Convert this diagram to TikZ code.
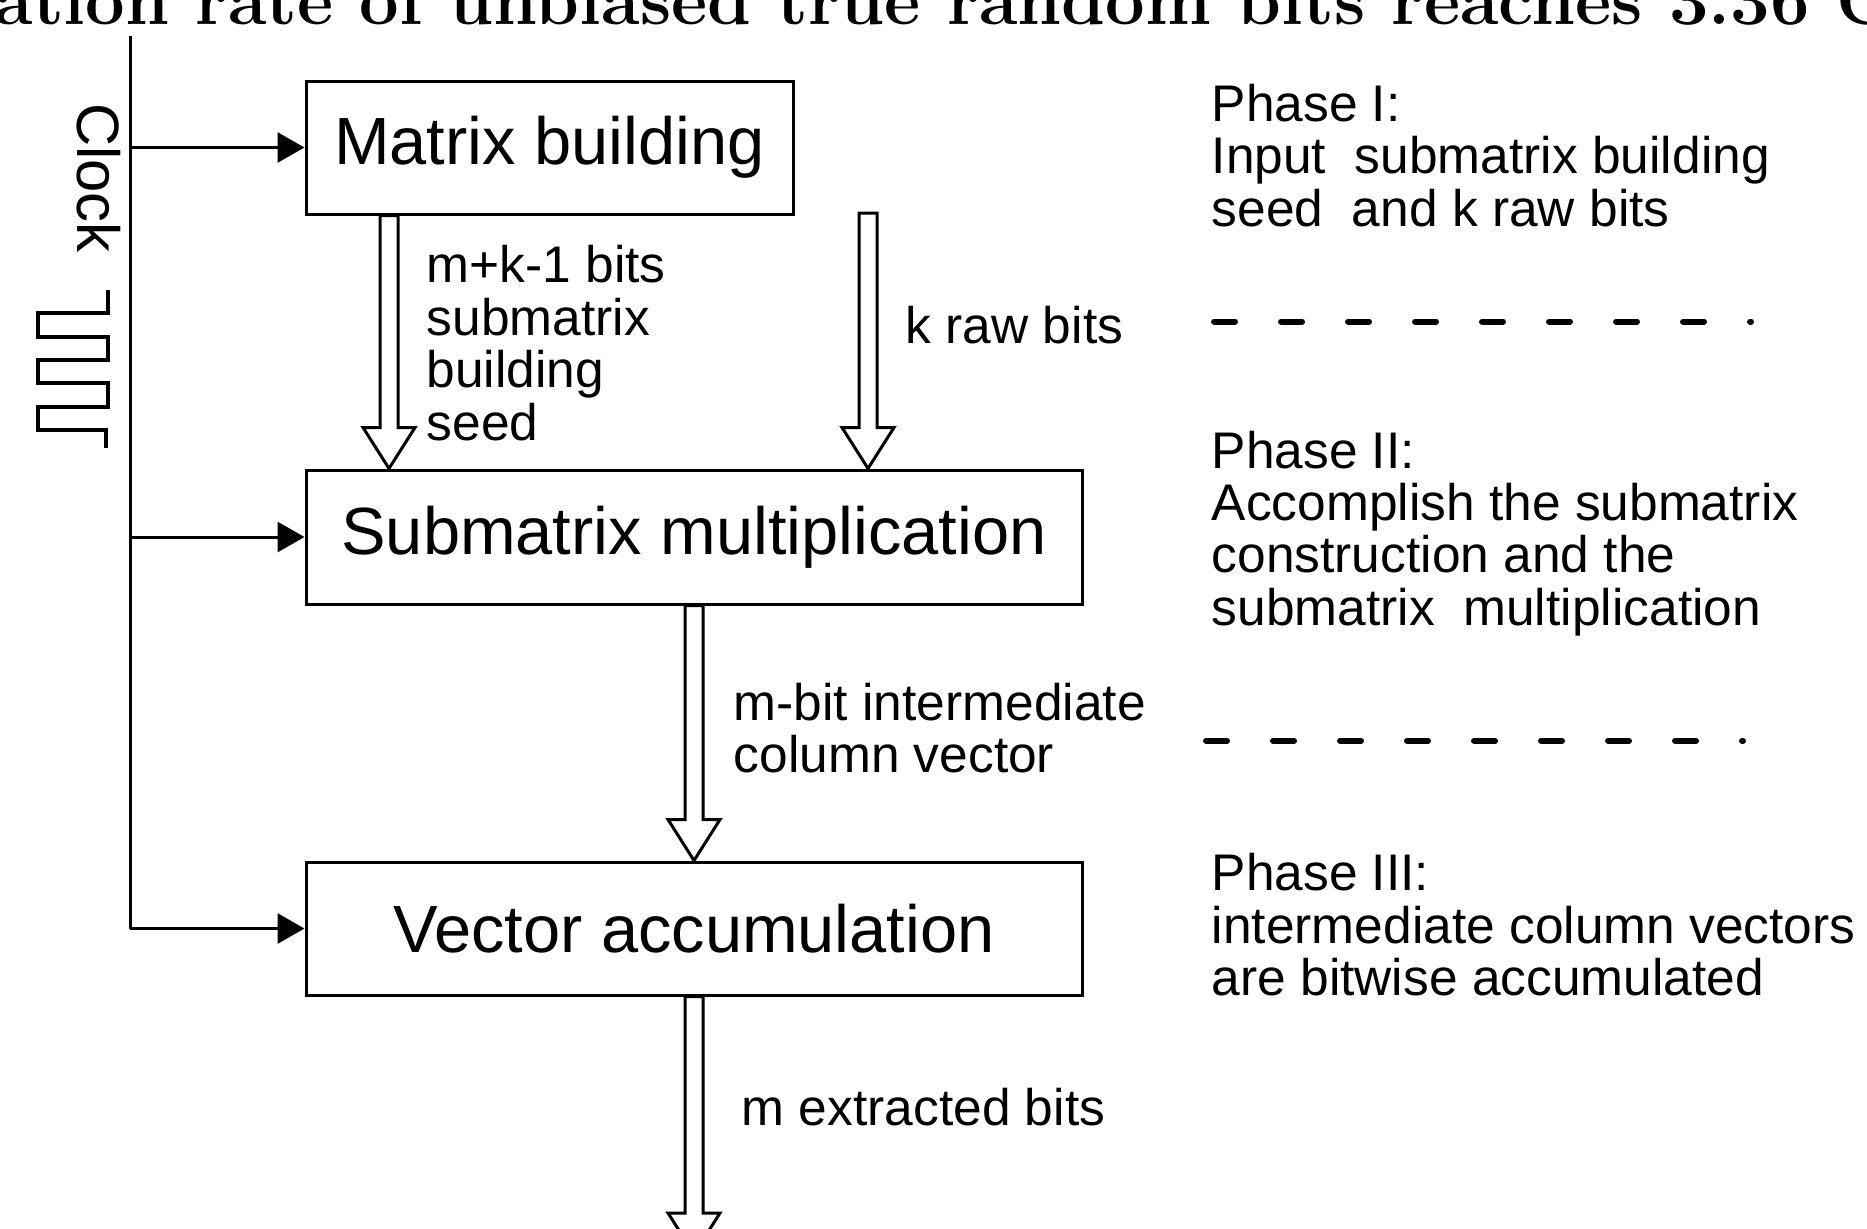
\documentclass[tikz,border=0pt]{standalone}
\usepackage{fontspec}
\newfontfamily\arial{Liberation Sans}
\usetikzlibrary{arrows.meta,calc}
\newcommand\hollowarr[2]{%
  \draw[hollow] ($(#1)+(-9,0)$) -- ($(#2)+(-9,-41)$) -- ($(#2)+(-26,-41)$) -- (#2)
    -- ($(#2)+(26,-41)$) -- ($(#2)+(9,-41)$) -- ($(#1)+(9,0)$) -- cycle;}
\begin{document}
\begin{tikzpicture}[x=0.1mm,y=-0.1mm,
  box/.style={draw, line width=0.3mm, inner sep=0, font=\arial\fontsize{19pt}{22pt}\selectfont},
  lbl/.style={inner sep=0, anchor=base west, align=left, font=\arial\fontsize{14.65pt}{14.9pt}\selectfont},
  clkarrow/.style={line width=0.3mm, -{Triangle[length=2.7mm,width=3mm]}},
  hollow/.style={line width=0.3mm, line join=miter},
  wire/.style={line width=0.3mm},
  phasesep/.style={line width=0.6mm, line cap=round, dash pattern=on 2.1mm off 4.6mm}]
\useasboundingbox (0,0) rectangle (1867,1228);
\clip (0,0) rectangle (1867,1228);
\fill[white] (0,0) rectangle (1867,1228);

% cut-off title
\node[anchor=base west, inner sep=0, font=\fontsize{20pt}{20pt}\selectfont\bfseries] (title) at (-6,24)
  {ation rate of unbiased true random bits reaches 3.36 G};

% boxes
\node[box, minimum width=48.7mm, minimum height=13.3mm] (mb) at (549.5,147.5) {Matrix building};
\node[box, minimum width=77.6mm, minimum height=13.4mm] (sm) at (694,537) {Submatrix multiplication};
\node[box, minimum width=77.6mm, minimum height=13.3mm] (va) at (694,928.5) {Vector accumulation};

% clock
\coordinate (ctop) at (130,36);
\draw[wire] (ctop) -- (ctop |- va.west);
\draw[clkarrow] (ctop |- mb.west) -- (mb.west);
\draw[clkarrow] (ctop |- sm.west) -- (sm.west);
\draw[clkarrow] (ctop |- va.west) -- (va.west);
\node[inner sep=0, rotate=-90, font=\arial\fontsize{17pt}{17pt}\selectfont] (clk) at (99,178) {Clock};
\draw[wire, line width=0.33mm] (108,290) -- (108,313) -- (38,313) -- (38,337) -- (108,337) -- (108,360)
  -- (38,360) -- (38,383) -- (108,383) -- (108,407) -- (38,407) -- (38,430) -- (106,430) -- (106,448);

% hollow arrows
\coordinate (colA) at (389,0);
\coordinate (a1s) at (colA |- mb.south);
\coordinate (a1e) at (colA |- sm.north);
\coordinate (rawsrc) at (868,213);
\coordinate (a2e) at (rawsrc |- sm.north);
\coordinate (out) at (694,1254);
\hollowarr{a1s}{a1e}
\hollowarr{rawsrc}{a2e}
\hollowarr{sm.south}{va.north}
\hollowarr{va.south}{out}

% labels (base anchor = baseline of the last line)
\node[lbl] (seedlbl) at (426,440) {m+k-1 bits\\submatrix\\building\\seed};
\node[lbl] (rawlbl) at (905,343) {k raw bits};
\node[lbl] (veclbl) at (733,772.4) {m-bit intermediate\\column vector};
\node[lbl] (outlbl) at (741,1125) {m extracted bits};

% phases
\node[lbl] (ph1) at (1211,226.3) {Phase I:\\Input\ \ submatrix building\\seed\ \ and k raw bits};
\node[lbl] (ph2) at (1211,625.2) {Phase II:\\Accomplish the submatrix\\construction and the\\submatrix\ \ multiplication};
\node[lbl] (ph3) at (1211,995.4) {Phase III:\\intermediate column vectors\\are bitwise accumulated};
\draw[phasesep] (1214,321.5) -- (1751,321.5);
\draw[phasesep] (1206,740.6) -- (1743,740.6);
\end{tikzpicture}
\end{document}
